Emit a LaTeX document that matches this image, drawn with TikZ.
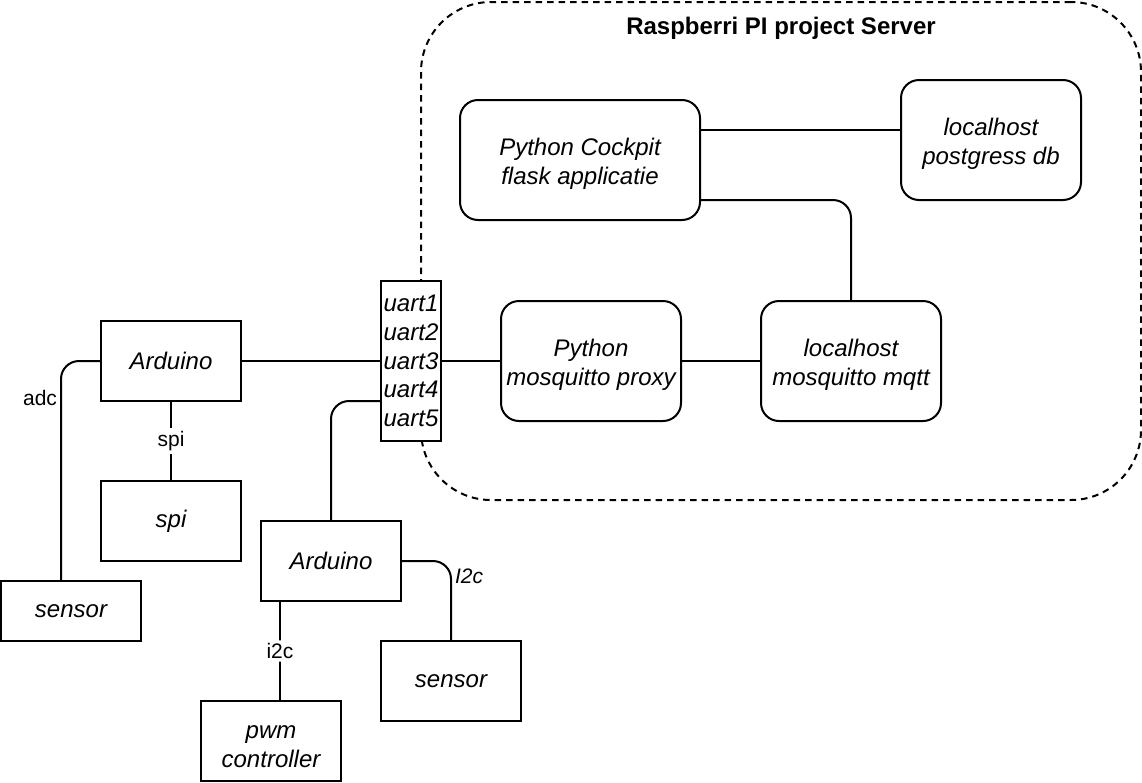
\documentclass[tikz,border=0pt]{standalone}
\usepackage{fontspec}
\setmainfont{Liberation Sans}
\usetikzlibrary{calc}
\newcommand\boxfont{\fontsize{24}{28.8}\selectfont\itshape}
\newcommand\lblfont{\fontsize{21}{25.2}\selectfont}
\newcommand\titlefont{\fontsize{24}{28.8}\selectfont\bfseries}
\newcommand\topstrut{\rule{0pt}{25pt}}
\begin{document}
\begin{tikzpicture}[x=1pt,y=-1pt, line width=2pt,
  box/.style={draw, fill=white, inner sep=0pt, align=center, font=\boxfont},
  rbox/.style={box, rounded corners=18pt},
  wire/.style={draw, line width=2pt, rounded corners=18pt},
  lbl/.style={font=\lblfont, inner sep=3pt},
  container/.style={draw, dash pattern=on 6.5pt off 5pt, rounded corners=70pt, inner sep=0pt}]
\useasboundingbox (0,0) rectangle (1142,782);
% container
\node[container, minimum width=720pt, minimum height=498pt] (server) at (781,251) {};
\node[font=\titlefont] (title) at ([yshift=-27pt]server.north) {Raspberri PI project Server};
% server nodes
\node[rbox, minimum width=240pt, minimum height=120pt] (cockpit) at (580,160) {\topstrut Python Cockpit\\flask applicatie};
\node[rbox, minimum width=180pt, minimum height=120pt] (postgres) at (991,140) {\topstrut localhost\\postgress db};
\node[rbox, minimum width=180pt, minimum height=120pt] (proxy) at (591,361) {\topstrut Python\\mosquitto proxy};
\node[rbox, minimum width=180pt, minimum height=120pt] (mqtt) at (851,361) {\topstrut localhost\\mosquitto mqtt};
% uart
\node[box, align=left, minimum width=60pt, minimum height=160pt] (uart) at (411,361) {uart1\\uart2\\uart3\\uart4\\uart5};
% left side nodes
\node[box, minimum width=140pt, minimum height=80pt] (ard1) at (171,361) {Arduino};
\node[box, minimum width=140pt, minimum height=80pt] (spi) at (171,521) {spi};
\node[box, minimum width=140pt, minimum height=60pt] (sensor1) at (71,611) {sensor};
\node[box, minimum width=140pt, minimum height=80pt] (ard2) at (331,561) {Arduino};
\node[box, minimum width=140pt, minimum height=80pt] (sensor2) at (451,681) {sensor};
\node[box, minimum width=140pt, minimum height=80pt] (pwm) at (271,741) {\topstrut pwm\\controller};
% connectors
\draw[wire] ([yshift=30pt]cockpit.east) -- ([yshift=10pt]postgres.west);
\draw[wire] ([yshift=-40pt]cockpit.east) -| (mqtt.north);
\draw[wire] (proxy.east) -- (mqtt.west);
\draw[wire] (uart.east) -- (proxy.west);
\draw[wire] (ard1.east) -- (uart.west);
\draw[wire] (ard1.west) -| node[lbl, pos=0.584, anchor=east] {adc} ([xshift=-10pt]sensor1.north);
\draw[wire] (ard1.south) -- node[lbl, fill=white] {spi} (spi.north);
\draw[wire] (ard2.north) |- ([yshift=-40pt]uart.west);
\draw[wire] (ard2.east) -| node[lbl, pos=0.594, anchor=west, font=\lblfont\itshape] {I2c} (sensor2.north);
\draw[wire] ([xshift=20pt]ard2.south west) -- node[lbl, fill=white] {i2c} ([xshift=80pt]pwm.north west);
\end{tikzpicture}
\end{document}
